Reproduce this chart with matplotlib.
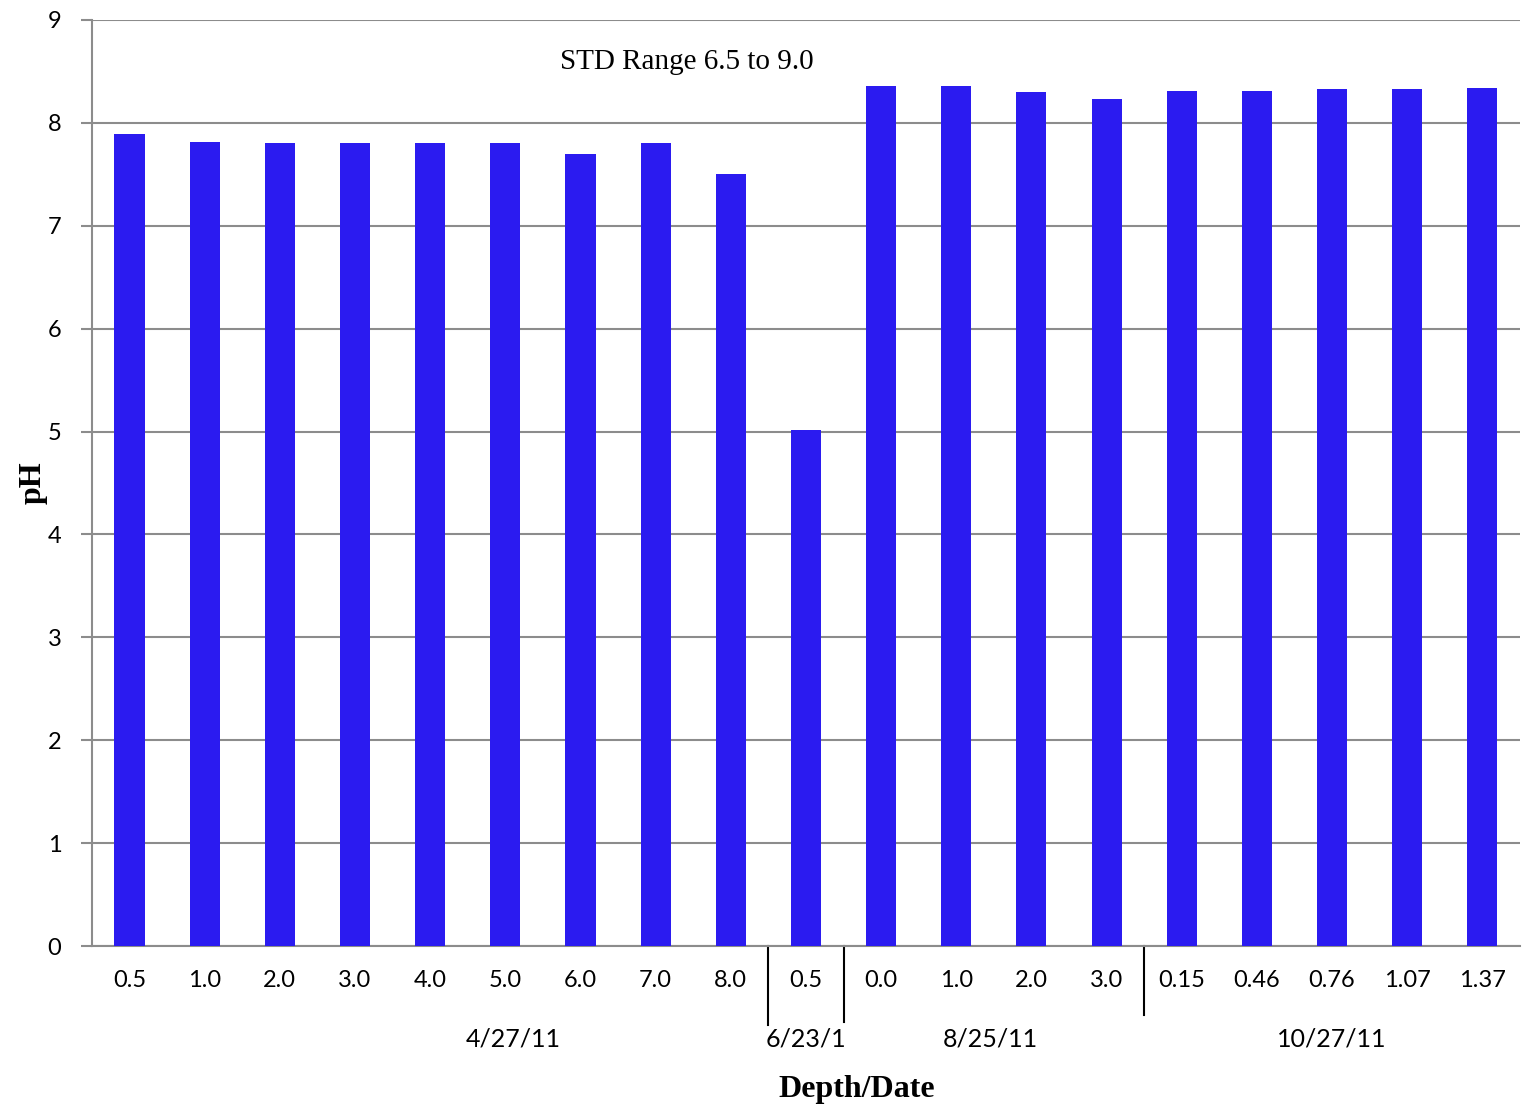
import numpy as np
import matplotlib.pyplot as plt
from matplotlib.transforms import blended_transform_factory

# depth labels and pH readings, grouped by sampling date
depths = ["0.5", "1.0", "2.0", "3.0", "4.0", "5.0", "6.0", "7.0", "8.0",
          "0.5",
          "0.0", "1.0", "2.0", "3.0",
          "0.15", "0.46", "0.76", "1.07", "1.37"]
ph = [7.89, 7.81, 7.80, 7.80, 7.80, 7.80, 7.70, 7.80, 7.50,
      5.02,
      8.36, 8.36, 8.30, 8.23,
      8.31, 8.31, 8.33, 8.33, 8.34]
dates = ["4/27/11", "6/23/1", "8/25/11", "10/27/11"]
group_sizes = [9, 1, 4, 5]
date_pos = [5.1, 9.0, 11.45, 16.0]
sep_len = [0.085, 0.082, 0.075]

bar_color = "#2b1bf0"
grid_color = "#8c8c8c"

fig = plt.figure(figsize=(15.22, 11.11), dpi=100)
ax = fig.add_axes([0.0604, 0.1485, 0.9383, 0.8335])

x = np.arange(len(ph))
ax.bar(x, ph, width=0.4, color=bar_color, zorder=3)

ax.set_xlim(-0.5, len(ph) - 0.5)
ax.set_ylim(0, 9)
ax.set_yticks(range(10))
ax.yaxis.grid(True, color=grid_color, linewidth=1.5, zorder=0)
ax.set_axisbelow(True)

ax.set_xticks(x)
ax.set_xticklabels(depths, fontsize=17, family="Lato")
ax.tick_params(axis="x", length=0, pad=17)
ax.tick_params(axis="y", length=8, width=1.5, color=grid_color, labelsize=17, pad=14)
for lab in ax.get_yticklabels():
    lab.set_family("Lato")

for side in ["top", "right"]:
    ax.spines[side].set_visible(False)
for side in ["left", "bottom"]:
    ax.spines[side].set_color(grid_color)
    ax.spines[side].set_linewidth(1.5)

# date group separators and labels below the depth ticks
trans = blended_transform_factory(ax.transData, ax.transAxes)
edges = np.cumsum(group_sizes)[:-1] - 0.5
for e, l in zip(edges, sep_len):
    ax.plot([e, e], [0, -l], transform=trans, color="black", linewidth=1.5, clip_on=False)
for d, p in zip(dates, date_pos):
    ax.text(p, -0.1, d, transform=trans, ha="center", va="center", fontsize=18, family="Lato")

ax.text(7.41, 8.59, "STD Range 6.5 to 9.0", ha="center", va="center",
        fontsize=21, family="Liberation Serif")

ax.text(0.5357, -0.155, "Depth/Date", transform=ax.transAxes, ha="center", va="center",
        fontsize=23, family="Liberation Serif", fontweight="bold")
ax.set_ylabel("pH", fontsize=23, family="Liberation Serif", fontweight="bold", labelpad=0)

fig.savefig("out.png")
